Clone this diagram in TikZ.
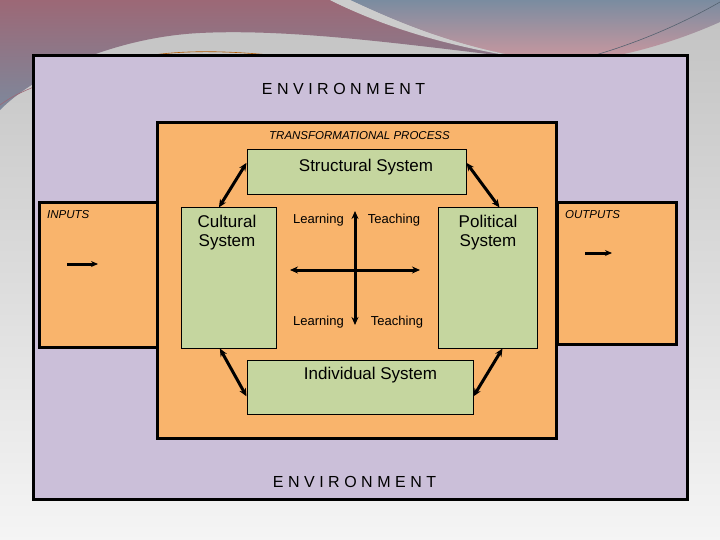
\documentclass[tikz,border=0pt]{standalone}
\usepackage{fontspec}
\setmainfont{Liberation Sans}
\usetikzlibrary{arrows.meta,calc}
\definecolor{envc}{RGB}{203,191,217}
\definecolor{orc}{RGB}{249,180,108}
\definecolor{grc}{RGB}{197,214,159}
\definecolor{mauve}{RGB}{156,104,118}
\definecolor{bluegr}{RGB}{122,140,160}
\newcommand{\envword}{E\kern4.5pt N\kern4.5pt V\kern4.5pt I\kern4.5pt R\kern4.5pt O\kern4.5pt N\kern4.5pt M\kern4.5pt E\kern4.5pt N\kern4.5pt T}
\tikzset{
  bigbox/.style={draw=black, line width=3pt, rectangle, inner sep=0pt},
  grbox/.style={draw=black, line width=1pt, fill=grc, rectangle, inner sep=0pt},
  lbl/.style={inner sep=0pt, font=\fontsize{17}{20}\selectfont, align=center},
  small/.style={inner sep=0pt, font=\fontsize{13}{15}\selectfont},
  ital/.style={inner sep=0pt, font=\fontsize{11.5}{13}\selectfont\itshape},
  envtxt/.style={inner sep=0pt, font=\fontsize{16}{18}\selectfont},
  dbl/.style={{Stealth[length=8pt,width=7pt]}-{Stealth[length=8pt,width=7pt]}, line width=3pt},
  sgl/.style={-{Stealth[length=7pt,width=6pt]}, line width=3pt}
}
\begin{document}
\begin{tikzpicture}[x=1pt,y=-1pt]
\useasboundingbox (0,0) rectangle (720,540);
% slide background
\shade[top color=black!24, bottom color=black!4] (0,0) rectangle (720,540);
\shade[top color=mauve, bottom color=bluegr!90!mauve]
  (0,0) -- (330,0) .. controls (380,25) and (450,45) .. (540,60)
  .. controls (430,48) and (300,28) .. (200,33)
  .. controls (120,37) and (40,70) .. (0,110) -- cycle;
\shade[top color=bluegr, bottom color=mauve!80!red!60]
  (350,0) -- (720,0) -- (720,22) .. controls (680,40) and (620,60) .. (560,63)
  .. controls (470,52) and (410,28) .. (350,0) -- cycle;
\fill[black!20] (330,0) -- (350,0) .. controls (410,28) and (470,52) .. (560,63)
  .. controls (450,50) and (380,25) .. (330,0) -- cycle;
\draw[orange!70!black, line width=0.6pt] (85,72) .. controls (150,48) and (210,48) .. (300,58) .. controls (380,66) and (430,70) .. (470,73);
\draw[bluegr!70!black, line width=0.6pt] (520,72) .. controls (610,58) and (680,25) .. (720,2);
\draw[mauve, line width=0.6pt] (0,105) .. controls (20,90) and (50,80) .. (85,72);
% main boxes
\node[bigbox, fill=envc, minimum width=654pt, minimum height=443pt] (env) at (360,277.5) {};
\node[bigbox, fill=orc, minimum width=399pt, minimum height=315pt] (trans) at (356.5,280.5) {};
\node[bigbox, fill=orc, minimum width=118pt, minimum height=144pt] (inputs) at (98,275) {};
\node[bigbox, fill=orc, minimum width=119pt, minimum height=141pt] (outputs) at (616.5,273.5) {};
% green boxes
\node[grbox, minimum width=219pt, minimum height=45pt] (struct) at (356.5,172.5) {};
\node[grbox, minimum width=95pt, minimum height=140pt] (cult) at (228.5,278) {};
\node[grbox, minimum width=99pt, minimum height=140pt] (polit) at (487.5,278) {};
\node[grbox, minimum width=226pt, minimum height=54pt] (indiv) at (360,387) {};
% texts
\node[envtxt] (envtop) at (343.5,89) {\envword};
\node[envtxt] (envbot) at (354.5,482) {\envword};
\node[ital] (transT) at (359.5,136) {TRANSFORMATIONAL PROCESS};
\node[ital, anchor=west] (inT) at (47,215) {INPUTS};
\node[ital, anchor=west] (outT) at (565,215) {OUTPUTS};
\node[lbl] (structT) at (366,167) {Structural System};
\node[lbl] (cultT) at (227,232.5) {Cultural\\[-1.5pt]System};
\node[lbl] (politT) at (488,232.5) {Political\\[-1.5pt]System};
\node[lbl] (indivT) at (370.5,375) {Individual System};
\node[small] (l1) at (318.5,220) {Learning};
\node[small] (t1) at (394,220) {Teaching};
\node[small] (l2) at (318.5,322) {Learning};
\node[small] (t2) at (397,322) {Teaching};
% cross
\coordinate (ctop) at (355,211);
\coordinate (cbot) at (355,325);
\coordinate (cleft) at (290,270);
\coordinate (cright) at (420,270);
\draw[dbl] (ctop) -- (cbot);
\draw[dbl] (cleft) -- (cright);
% input / output arrows
\coordinate (ia) at (67,264);
\coordinate (ib) at (98,264);
\coordinate (oa) at (585,253);
\coordinate (ob) at (612,253);
\draw[sgl] (ia) -- (ib);
\draw[sgl] (oa) -- (ob);
% diagonal connectors
\draw[dbl] ($(struct.north west)!0.29!(struct.south west)$) -- ($(cult.north west)!0.4!(cult.north east)$);
\draw[dbl] ($(struct.north east)!0.29!(struct.south east)$) -- ($(polit.north west)!0.62!(polit.north east)$);
\draw[dbl] ($(cult.south west)!0.41!(cult.south east)$) -- ($(indiv.north west)!0.67!(indiv.south west)$);
\draw[dbl] ($(polit.south west)!0.65!(polit.south east)$) -- ($(indiv.north east)!0.67!(indiv.south east)$);
\end{tikzpicture}
\end{document}
